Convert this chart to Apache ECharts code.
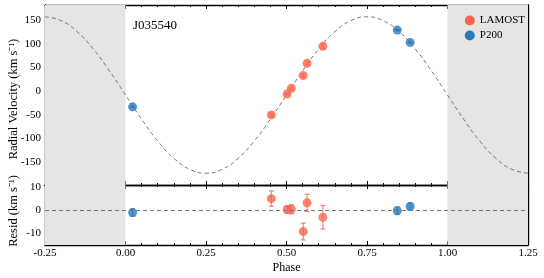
<!DOCTYPE html>
<html><head><meta charset="utf-8">
<script src="https://cdn.jsdelivr.net/npm/echarts@6/dist/echarts.min.js"></script>
<style>html,body{margin:0;padding:0;background:#fff}#c{width:544px;height:278px}</style>
</head><body><div id="c"></div>
<script>
// ---- data ----
const starName = 'J035540';
const lamostPhase = [0.453, 0.502, 0.515, 0.552, 0.564, 0.613];
const lamostRV    = [-50, -6, 6, 33, 59, 95];
const lamostResid = [4.8, 0.1, 0.2, -9.4, 3.0, -3.2];
const lamostErr   = [3.3, 1.5, 2.0, 3.6, 3.7, 5.1];
const p200Phase = [0.022, 0.844, 0.884];
const p200RV    = [-33, 129, 103];
const p200Resid = [-1.2, -0.4, 1.4];
const p200Err   = [1.6, 1.6, 1.6];
// model curve, read at steps of 0.05 in phase
const modelPhase = [-0.25,-0.20,-0.15,-0.10,-0.05,0.00,0.05,0.10,0.15,0.20,0.25,0.30,0.35,0.40,0.45,0.50,0.55,0.60,0.65,0.70,0.75,0.80,0.85,0.90,0.95,1.00,1.05,1.10,1.15,1.20,1.25];
const modelRV    = [157,148.9,125.5,89,43,-8,-59,-105,-141.5,-164.9,-173,-164.9,-141.5,-105,-59,-8,43,89,125.5,148.9,157,148.9,125.5,89,43,-8,-59,-105,-141.5,-164.9,-173];
const rvTicks = [-150,-100,-50,0,50,100,150];
const residTicks = [-10,0,10];
const rvLabel = 'Radial Velocity (km s\u207B\u00B9)';
const residLabel = 'Resid (km s\u207B\u00B9)';

const RED = '#f9664f', BLUE = '#2a7bba';
const FONT = 'Liberation Serif';
const zip = (a,b)=>a.map((v,i)=>[v,b[i]]);
const zip3 = (a,b,c)=>a.map((v,i)=>[v,b[i],c[i]]);

function errRender(color){
  return function(params, api){
    const x = api.value(0), y = api.value(1), e = api.value(2);
    const p1 = api.coord([x, y+e]), p2 = api.coord([x, y-e]);
    const cw = 2.5;
    const st = {stroke: color, lineWidth: 1.3, opacity: 0.75};
    return {type:'group', children:[
      {type:'line', shape:{x1:p1[0],y1:p1[1],x2:p2[0],y2:p2[1]}, style:st},
      {type:'line', shape:{x1:p1[0]-cw,y1:p1[1],x2:p1[0]+cw,y2:p1[1]}, style:st},
      {type:'line', shape:{x1:p2[0]-cw,y1:p2[1],x2:p2[0]+cw,y2:p2[1]}, style:st}
    ]};
  };
}

const axLine = {show:true, onZero:false, lineStyle:{color:'#000', width:1.4}};
function xAx(grid, pos, labels, name){
  return {type:'value', gridIndex:grid, position:pos, min:-0.25, max:1.25, interval:0.25,
    axisLine:axLine, splitLine:{show:false},
    axisTick:{show:true, inside:true, length:4, lineStyle:{color:'#000'}},
    minorTick:{show:true, splitNumber:5, length:2, lineStyle:{color:'#000'}},
    axisLabel:{show:labels, margin:3, fontFamily:FONT, fontSize:11, color:'#000',
      formatter:v=>v.toFixed(2)},
    name: name||'', nameLocation:'middle', nameGap:17,
    nameTextStyle:{fontFamily:FONT, fontSize:12, color:'#000'}};
}
function yAx(grid, pos, min, max, ticks, labels){
  return {type:'value', gridIndex:grid, position:pos, min:min, max:max,
    axisLine:axLine, splitLine:{show:false},
    axisTick:{show:true, inside:true, length:4, customValues:ticks, lineStyle:{color:'#000'}},
    axisLabel:{show:labels, customValues:ticks, margin:4, fontFamily:FONT, fontSize:11, color:'#000'}};
}

const shade = {silent:true, itemStyle:{color:'#e5e5e5'}, data:[
  [{xAxis:-0.25},{xAxis:0}], [{xAxis:1},{xAxis:1.25}] ]};

const option = {
  animation:false,
  backgroundColor:'#fff',
  grid:[
    {left:45, right:16, top:5, height:180, containLabel:false, outerBoundsMode:'none'},
    {left:45, right:16, top:185, height:60, containLabel:false, outerBoundsMode:'none'}
  ],
  xAxis:[ xAx(0,'bottom',false), xAx(0,'top',false), xAx(1,'bottom',true,'Phase'), xAx(1,'top',false) ],
  yAxis:[ yAx(0,'left',-198,182,rvTicks,true),
          yAx(0,'right',-198,182,rvTicks,false),
          yAx(1,'left',-15.2,10.7,residTicks,true),
          yAx(1,'right',-15.2,10.7,residTicks,false) ],
  graphic:[
    {type:'text', x:14, y:99, rotation:Math.PI/2, style:{text:rvLabel, fontFamily:FONT, fontSize:12.5, fill:'#000', align:'center', verticalAlign:'middle'}},
    {type:'text', x:14, y:211, rotation:Math.PI/2, style:{text:residLabel, fontFamily:FONT, fontSize:12.5, fill:'#000', align:'center', verticalAlign:'middle'}}
  ],
  title:{text:starName, left:128, top:14, textStyle:{fontFamily:FONT, fontSize:13, fontWeight:'normal', color:'#000'}},
  legend:{right:14, top:10, orient:'vertical', itemGap:4, itemWidth:10, itemHeight:10,
    data:[{name:'LAMOST', icon:'circle'},{name:'P200', icon:'circle'}],
    textStyle:{fontFamily:FONT, fontSize:11, color:'#000'}},
  series:[
    {type:'line', name:'model', xAxisIndex:0, yAxisIndex:0, data:zip(modelPhase, modelRV), smooth:true,
      showSymbol:false, symbol:'none', lineStyle:{color:'#777', width:1, type:[4,3]}, markArea:shade, z:2},
    {type:'line', name:'zero', xAxisIndex:2, yAxisIndex:2, data:[], symbol:'none',
      markArea:shade,
      markLine:{silent:true, symbol:'none', label:{show:false}, lineStyle:{color:'#777', width:1, type:[4,3]}, data:[{yAxis:0}]}, z:2},
    {type:'custom', name:'LAMOST', xAxisIndex:0, yAxisIndex:0, renderItem:errRender(RED), data:zip3(lamostPhase,lamostRV,lamostErr), z:3, itemStyle:{color:RED}},
    {type:'custom', name:'P200', xAxisIndex:0, yAxisIndex:0, renderItem:errRender(BLUE), data:zip3(p200Phase,p200RV,p200Err), z:3, itemStyle:{color:BLUE}},
    {type:'custom', name:'LAMOST', xAxisIndex:2, yAxisIndex:2, renderItem:errRender(RED), data:zip3(lamostPhase,lamostResid,lamostErr), z:3, itemStyle:{color:RED}},
    {type:'custom', name:'P200', xAxisIndex:2, yAxisIndex:2, renderItem:errRender(BLUE), data:zip3(p200Phase,p200Resid,p200Err), z:3, itemStyle:{color:BLUE}},
    {type:'scatter', name:'LAMOST', xAxisIndex:0, yAxisIndex:0, data:zip(lamostPhase,lamostRV), symbolSize:9, itemStyle:{color:RED}, z:4},
    {type:'scatter', name:'P200', xAxisIndex:0, yAxisIndex:0, data:zip(p200Phase,p200RV), symbolSize:9, itemStyle:{color:BLUE}, z:4},
    {type:'scatter', name:'LAMOST', xAxisIndex:2, yAxisIndex:2, data:zip(lamostPhase,lamostResid), symbolSize:9, itemStyle:{color:RED}, z:4},
    {type:'scatter', name:'P200', xAxisIndex:2, yAxisIndex:2, data:zip(p200Phase,p200Resid), symbolSize:9, itemStyle:{color:BLUE}, z:4}
  ]
};
echarts.init(document.getElementById('c'), null, {renderer:'canvas'}).setOption(option);
</script></body></html>
